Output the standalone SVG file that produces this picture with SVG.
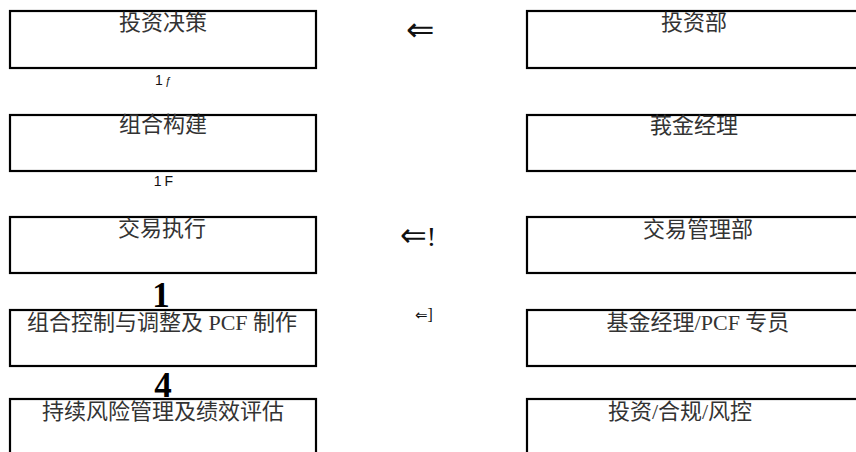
<svg xmlns="http://www.w3.org/2000/svg" width="856" height="452" viewBox="0 0 856 452">
<style>
.box{fill:#fff;stroke:#000;stroke-width:2.2}
.t{font-family:"Liberation Serif","Noto Sans CJK SC",serif;font-size:22px;fill:#333;text-anchor:middle}
.arr{font-family:"DejaVu Sans","Liberation Sans",sans-serif;fill:#111}
.sm{font-family:"Liberation Sans",sans-serif;font-size:14px;fill:#111;text-anchor:middle}
.big{font-family:"Liberation Serif",serif;font-weight:bold;font-size:35px;fill:#000;text-anchor:middle}
</style>
<rect width="856" height="452" fill="#fff"/>
<g id="connectors">
<text class="sm" x="164" y="85" letter-spacing="2">1<tspan font-style="italic" font-size="11">ƒ</tspan></text>
<text class="sm" x="165" y="186" letter-spacing="3">1F</text>
<text class="big" x="161" y="307">1</text>
<text class="big" x="163" y="397">4</text>
<text class="arr" x="406" y="41" font-size="34">⇐</text>
<text class="arr" x="400" y="246" font-size="25"><tspan font-size="32">⇐</tspan><tspan font-family="Liberation Serif" font-size="28">!</tspan></text>
<text class="arr" x="415" y="320" font-size="15">⇐<tspan font-family="Liberation Serif" font-size="16">]</tspan></text>
</g>
<g id="n1"><rect class="box" x="10" y="11" width="306" height="57"/><text class="t" x="163" y="30">投资决策</text></g>
<g id="n2"><rect class="box" x="10" y="115" width="306" height="56"/><text class="t" x="163" y="132">组合构建</text></g>
<g id="n3"><rect class="box" x="10" y="217" width="306" height="56"/><text class="t" x="162" y="236">交易执行</text></g>
<g id="n4"><rect class="box" x="10" y="310" width="306" height="56"/><text class="t" x="162" y="330">组合控制与调整及 PCF 制作</text></g>
<g id="n5"><rect class="box" x="10" y="399" width="306" height="70"/><text class="t" x="163" y="419">持续风险管理及绩效评估</text></g>
<g id="r1"><rect class="box" x="527" y="11" width="345" height="57"/><text class="t" x="694" y="30">投资部</text></g>
<g id="r2"><rect class="box" x="527" y="115" width="345" height="56"/><text class="t" x="694" y="133">莪金经理</text></g>
<g id="r3"><rect class="box" x="527" y="217" width="345" height="56"/><text class="t" x="698" y="237">交易管理部</text></g>
<g id="r4"><rect class="box" x="527" y="310" width="345" height="56"/><text class="t" x="698" y="330">基金经理/PCF 专员</text></g>
<g id="r5"><rect class="box" x="527" y="399" width="345" height="70"/><text class="t" x="680" y="419">投资/合规/风控</text></g>
</svg>
